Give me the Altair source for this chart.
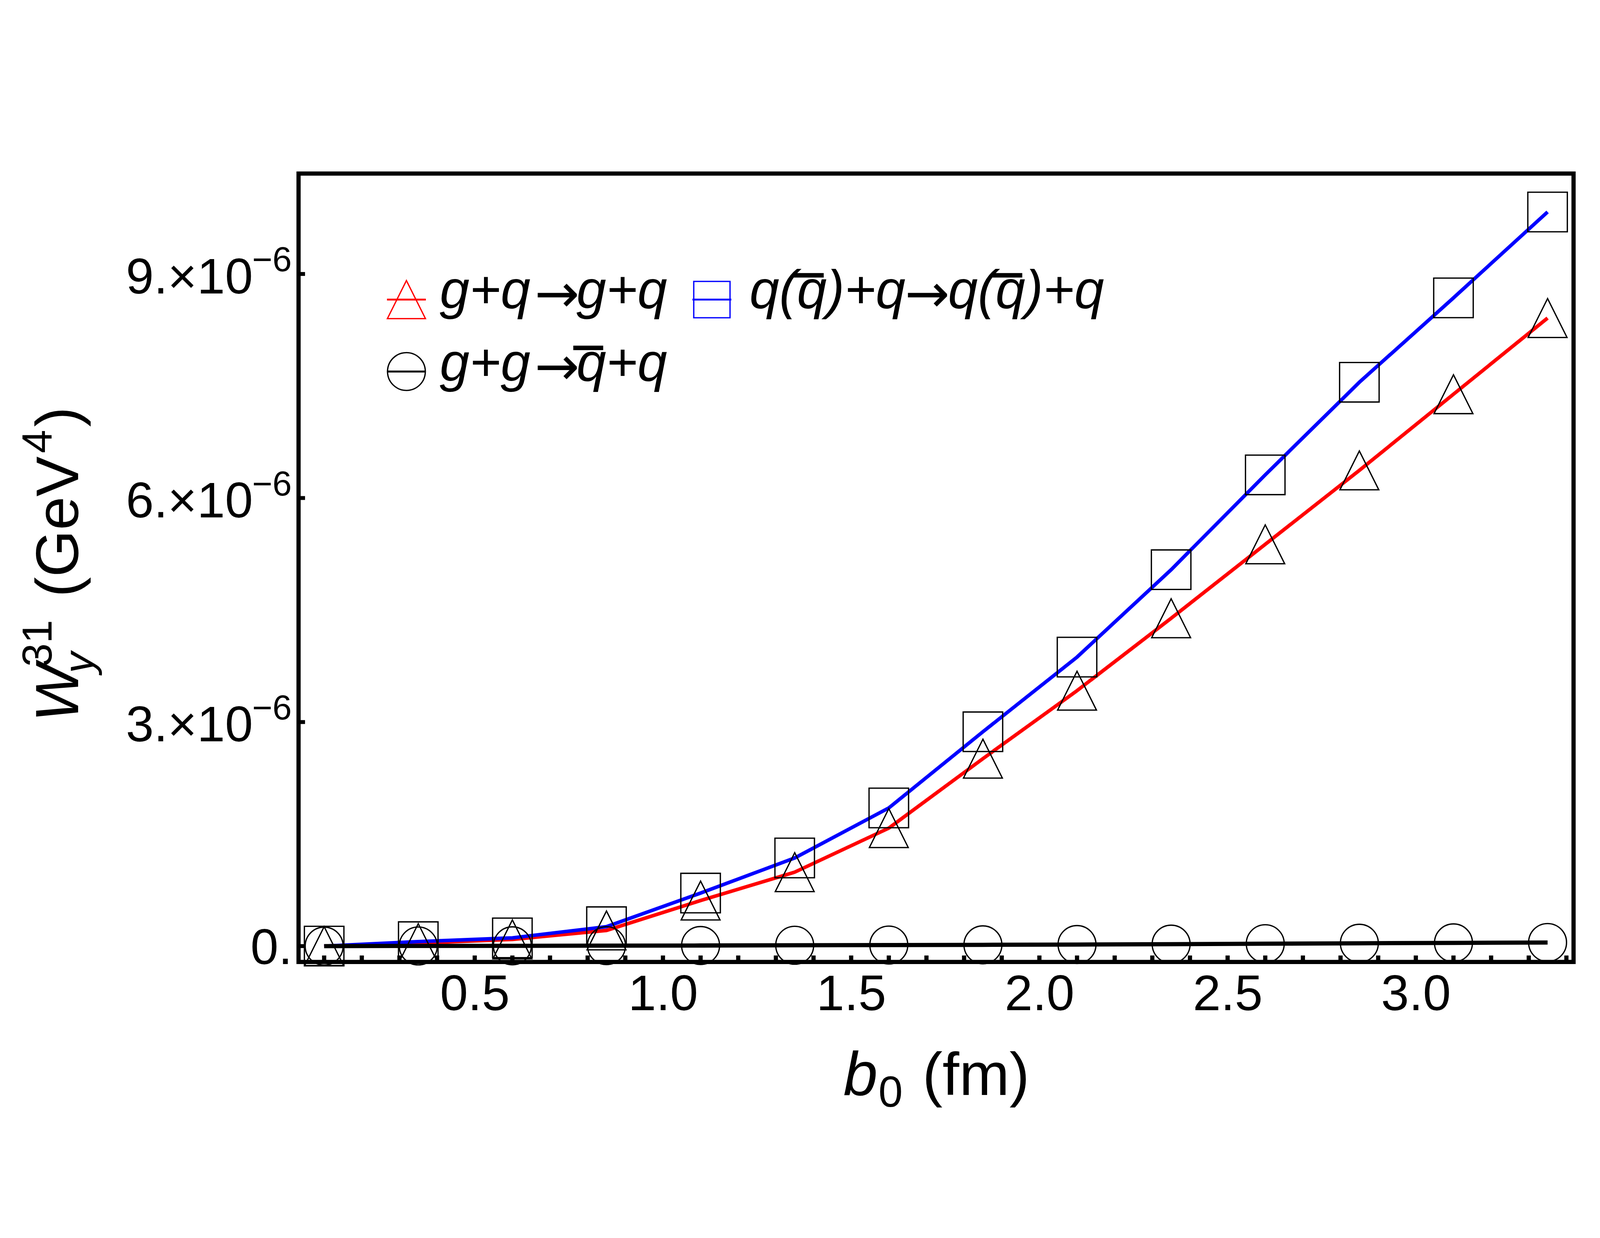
import altair as alt
import pandas as pd

FONT = "Liberation Sans"

# ---- data (W values in units of 1e-6 GeV^4) ----
b0 = [0.1, 0.35, 0.6, 0.85, 1.1, 1.35, 1.6, 1.85, 2.1, 2.35, 2.6, 2.85, 3.1, 3.35]
w_gq = [0.0, 0.04, 0.09, 0.21, 0.61, 0.99, 1.58, 2.51, 3.42, 4.39, 5.38, 6.37, 7.39, 8.41]
w_qq = [0.0, 0.06, 0.11, 0.26, 0.71, 1.18, 1.85, 2.87, 3.87, 5.04, 6.31, 7.55, 8.68, 9.83]
w_gg = [0.0, 0.002, 0.004, 0.006, 0.008, 0.011, 0.014, 0.017, 0.021, 0.026, 0.032, 0.038, 0.043, 0.048]

x_label_ticks = [0.5, 1.0, 1.5, 2.0, 2.5, 3.0]
x_minor_ticks = [0.1, 0.2, 0.3, 0.4, 0.5, 0.6, 0.7, 0.8, 0.9, 1.0, 1.1, 1.2, 1.3, 1.4, 1.5, 1.6, 1.7,
                 1.8, 1.9, 2.0, 2.1, 2.2, 2.3, 2.4, 2.5, 2.6, 2.7, 2.8, 2.9, 3.0, 3.1, 3.2, 3.3, 3.4]
y_ticks = [0.0, 3e-6, 6e-6, 9e-6]
y_tick_mantissa = ["0.", "3.×10", "6.×10", "9.×10"]
y_tick_exponent = ["", "−6", "−6", "−6"]

SCALE = 1e-6
W, H = 3936, 2433

df = pd.DataFrame({
    "b": b0,
    "gq": [v * SCALE for v in w_gq],
    "qq": [v * SCALE for v in w_qq],
    "gg": [v * SCALE for v in w_gg],
})

xs = alt.Scale(domain=[0.032, 3.419], nice=False, zero=False)
ys = alt.Scale(domain=[-0.2126e-6, 10.345e-6], nice=False, zero=False)
xaxis = alt.Axis(values=x_label_ticks, format=".1f", labelFont=FONT, labelFontSize=155,
                 labelColor="black", labelPadding=26, labelLimit=2000, ticks=False, tickSize=0,
                 domain=False, grid=False, title=None, labelFlush=False, labelOverlap=False)

def X(field="b"):
    return alt.X(f"{field}:Q", scale=xs, axis=xaxis)

def Y(field):
    return alt.Y(f"{field}:Q", scale=ys, axis=None)

TRI = "M0,-1L1,1L-1,1Z"

base = alt.Chart(df)
lines = [
    base.mark_line(color="#FF0000", strokeWidth=11).encode(x=X(), y=Y("gq")),
    base.mark_line(color="#0000FF", strokeWidth=11).encode(x=X(), y=Y("qq")),
    base.mark_line(color="black", strokeWidth=13).encode(x=X(), y=Y("gg")),
]
markers = [
    base.mark_point(shape=TRI, size=14400, filled=False, color="black", strokeWidth=4, opacity=1)
        .encode(x=X(), y=Y("gq")),
    base.mark_point(shape="square", size=14884, filled=False, color="black", strokeWidth=4, opacity=1)
        .encode(x=X(), y=Y("qq")),
    base.mark_point(shape="circle", size=13700, filled=False, color="black", strokeWidth=4, opacity=1)
        .encode(x=X(), y=Y("gg")),
]

# inward ticks
xt = alt.Chart(pd.DataFrame({"b": x_minor_ticks})).mark_rule(color="black", strokeWidth=13).encode(
    x=X(), y=alt.value(H - 20), y2=alt.value(H))
ydf = pd.DataFrame({"w": y_ticks, "m": y_tick_mantissa, "e": y_tick_exponent})
yt = alt.Chart(ydf).mark_rule(color="black", strokeWidth=12).encode(
    y=Y("w"), x=alt.value(0), x2=alt.value(20))

ylab_main = alt.Chart(ydf[ydf.w > 0]).mark_text(
    align="right", baseline="alphabetic", font=FONT, fontSize=155, dy=60, color="black"
).encode(y=Y("w"), x=alt.value(-141), text="m:N")
ylab_zero = alt.Chart(ydf[ydf.w == 0]).mark_text(
    align="right", baseline="alphabetic", font=FONT, fontSize=155, dy=55, color="black"
).encode(y=Y("w"), x=alt.value(-19), text="m:N")
ylab_exp = alt.Chart(ydf[ydf.w > 0]).mark_text(
    align="right", baseline="alphabetic", font=FONT, fontSize=107, dy=-8, color="black"
).encode(y=Y("w"), x=alt.value(-21), text="e:N")

one = pd.DataFrame({"k": [0]})

def txt(text, x, y, size, italic=False, angle=None, color="black", font=FONT, align="left"):
    kw = dict(text=text, fontSize=size, font=font, align=align, baseline="alphabetic", color=color)
    if italic:
        kw["fontStyle"] = "italic"
    if angle is not None:
        kw["angle"] = angle
    return alt.Chart(one).mark_text(**kw).encode(x=alt.value(x), y=alt.value(y))

def hbar(x1, x2, y, width, color="black"):
    return alt.Chart(one).mark_rule(color=color, strokeWidth=width).encode(
        x=alt.value(x1), x2=alt.value(x2), y=alt.value(y))

# axis titles
titles = [
    txt("b", 1682, 2844, 190, italic=True),
    txt("0", 1790, 2879, 135),
    txt("(fm)", 1926, 2844, 186),
    txt("W", -680, 1692, 188, italic=True, angle=270),
    txt("31", -762, 1522, 130, angle=270),
    txt("y", -634, 1542, 130, italic=True, angle=270),
    txt("(GeV", -680, 1307, 186, angle=270),
    txt("4", -762, 863, 130, angle=270),
    txt(")", -680, 782, 186, angle=270),
]

# legend
def leg_marker(shape, size, color, cx, cy):
    m = alt.Chart(one).mark_point(shape=shape, size=size, filled=False, color=color,
                                  strokeWidth=4, opacity=1).encode(x=alt.value(cx), y=alt.value(cy))
    r = hbar(cx - 60, cx + 60, cy, 6, color)
    return [m, r]

FS = 165
ADV = {"q": 0.556, "g": 0.556, "(": 0.333, ")": 0.333, "+": 0.584}

def overbar(x0, text, idx, base_y):
    start = x0 + sum(ADV[c] for c in text[:idx]) * FS
    return hbar(start - 0.06 * FS, start + 0.50 * FS, base_y - 101, 14)

R1, R2 = 415, 639
legend = (
    leg_marker(TRI, 13800, "#FF0000", 333, 389)
    + leg_marker("square", 12544, "#0000FF", 1276, 389)
    + leg_marker("circle", 13600, "black", 333, 611)
    + [
        txt("g+q", 436, R1, FS, italic=True),
        txt("→", 798, R1 + 12, FS, font="DejaVu Sans", align="center"),
        txt("g+q", 858, R1, FS, italic=True),
        txt("q(q)+q", 1392, R1, FS, italic=True),
        txt("→", 1941, R1 + 12, FS, font="DejaVu Sans", align="center"),
        txt("q(q)+q", 2005, R1, FS, italic=True),
        overbar(1392, "q(q)+q", 2, R1),
        overbar(2005, "q(q)+q", 2, R1),
        txt("g+g", 436, R2, FS, italic=True),
        txt("→", 798, R2 + 12, FS, font="DejaVu Sans", align="center"),
        txt("q+q", 858, R2, FS, italic=True),
        overbar(858, "q+q", 0, R2),
    ]
)

chart = alt.layer(*lines, *markers, xt, yt, ylab_main, ylab_zero, ylab_exp, *titles, *legend).properties(
    width=W, height=H,
    autosize=alt.AutoSizeParams(type="none"),
    padding={"left": 912, "top": 203, "right": 72, "bottom": 500},
    background="white",
).configure_view(stroke="black", strokeWidth=13)

chart.save("out.html", embed_options={"renderer": "svg", "actions": False})
